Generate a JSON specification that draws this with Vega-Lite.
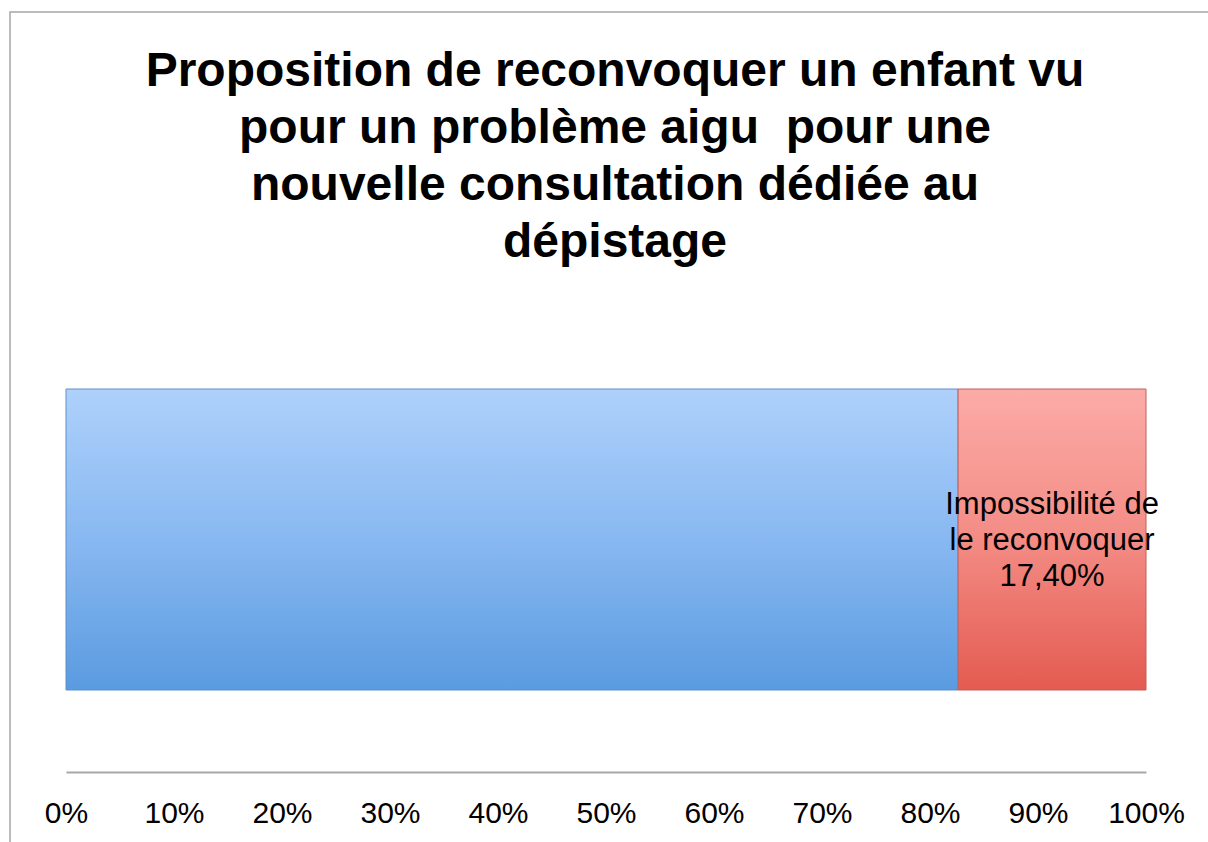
{
  "$schema": "https://vega.github.io/schema/vega-lite/v6.json",
  "autosize": {"type": "none"},
  "padding": {"left": 10, "top": 12, "right": 0, "bottom": 0},
  "width": 1210,
  "height": 840,
  "background": "white",
  "config": {
    "font": "Liberation Sans",
    "view": {"stroke": "#a6a6a6", "strokeWidth": 1.5}
  },
  "title": {
    "text": [
      "Proposition de reconvoquer un enfant vu",
      "pour un problème aigu\u00a0 pour une",
      "nouvelle consultation dédiée au",
      "dépistage"
    ],
    "font": "Liberation Sans",
    "fontSize": 48,
    "fontWeight": "bold",
    "color": "black",
    "lineHeight": 57,
    "anchor": "middle",
    "baseline": "top",
    "offset": 0,
    "dy": 255
  },
  "data": {
    "values": [
      {"grp": "Consultation", "cat": "Reconvocation possible", "ord": 1, "pct": 0.826, "label": ""},
      {"grp": "Consultation", "cat": "Impossibilité de le reconvoquer", "ord": 2, "pct": 0.174, "label": "Impossibilité de\nle reconvoquer\n17,40%"}
    ]
  },
  "transform": [
    {"stack": "pct", "groupby": ["grp"], "sort": [{"field": "ord", "order": "ascending"}], "as": ["x0", "x1"]}
  ],
  "encoding": {
    "y": {
      "field": "grp",
      "type": "nominal",
      "axis": null,
      "scale": {"range": [377, 678], "paddingInner": 0, "paddingOuter": 0}
    }
  },
  "layer": [
    {
      "mark": {"type": "bar", "strokeWidth": 1},
      "encoding": {
        "x": {
          "field": "x0",
          "type": "quantitative",
          "scale": {"domain": [0, 1], "range": [56, 1136], "nice": false},
          "axis": {
            "orient": "bottom",
            "offset": -80,
            "format": ".0%",
            "values": [0, 0.1, 0.2, 0.3, 0.4, 0.5, 0.6, 0.7, 0.8, 0.9, 1],
            "ticks": false,
            "grid": false,
            "title": null,
            "domainColor": "#a8a8a8",
            "domainWidth": 2,
            "labelFont": "Liberation Sans",
            "labelFontSize": 30,
            "labelColor": "black",
            "labelPadding": 26,
            "labelFlush": false,
            "labelOverlap": false
          }
        },
        "x2": {"field": "x1"},
        "fill": {
          "condition": {
            "test": "datum.ord === 2",
            "value": {
              "gradient": "linear", "x1": 0, "y1": 0, "x2": 0, "y2": 1,
              "stops": [
                {"offset": 0, "color": "#fcaba7"},
                {"offset": 0.5, "color": "#f38c85"},
                {"offset": 1, "color": "#e45b51"}
              ]
            }
          },
          "value": {
            "gradient": "linear", "x1": 0, "y1": 0, "x2": 0, "y2": 1,
            "stops": [
              {"offset": 0, "color": "#aed1fb"},
              {"offset": 0.5, "color": "#88b8f1"},
              {"offset": 1, "color": "#5a9be0"}
            ]
          }
        },
        "stroke": {
          "condition": {"test": "datum.ord === 2", "value": "#c0605a"},
          "value": "#5f8fc8"
        }
      }
    },
    {
      "transform": [
        {"fold": ["x0", "x1"], "as": ["k", "v"]}
      ],
      "mark": {
        "type": "text",
        "align": "center",
        "baseline": "middle",
        "font": "Liberation Sans",
        "fontSize": 31,
        "lineHeight": 36,
        "lineBreak": "\n",
        "dy": -35,
        "color": "black"
      },
      "encoding": {
        "x": {
          "field": "v",
          "aggregate": "mean",
          "type": "quantitative",
          "scale": {"domain": [0, 1], "range": [56, 1136], "nice": false}
        },
        "text": {"field": "label"},
        "detail": {"field": "cat"}
      }
    }
  ]
}
